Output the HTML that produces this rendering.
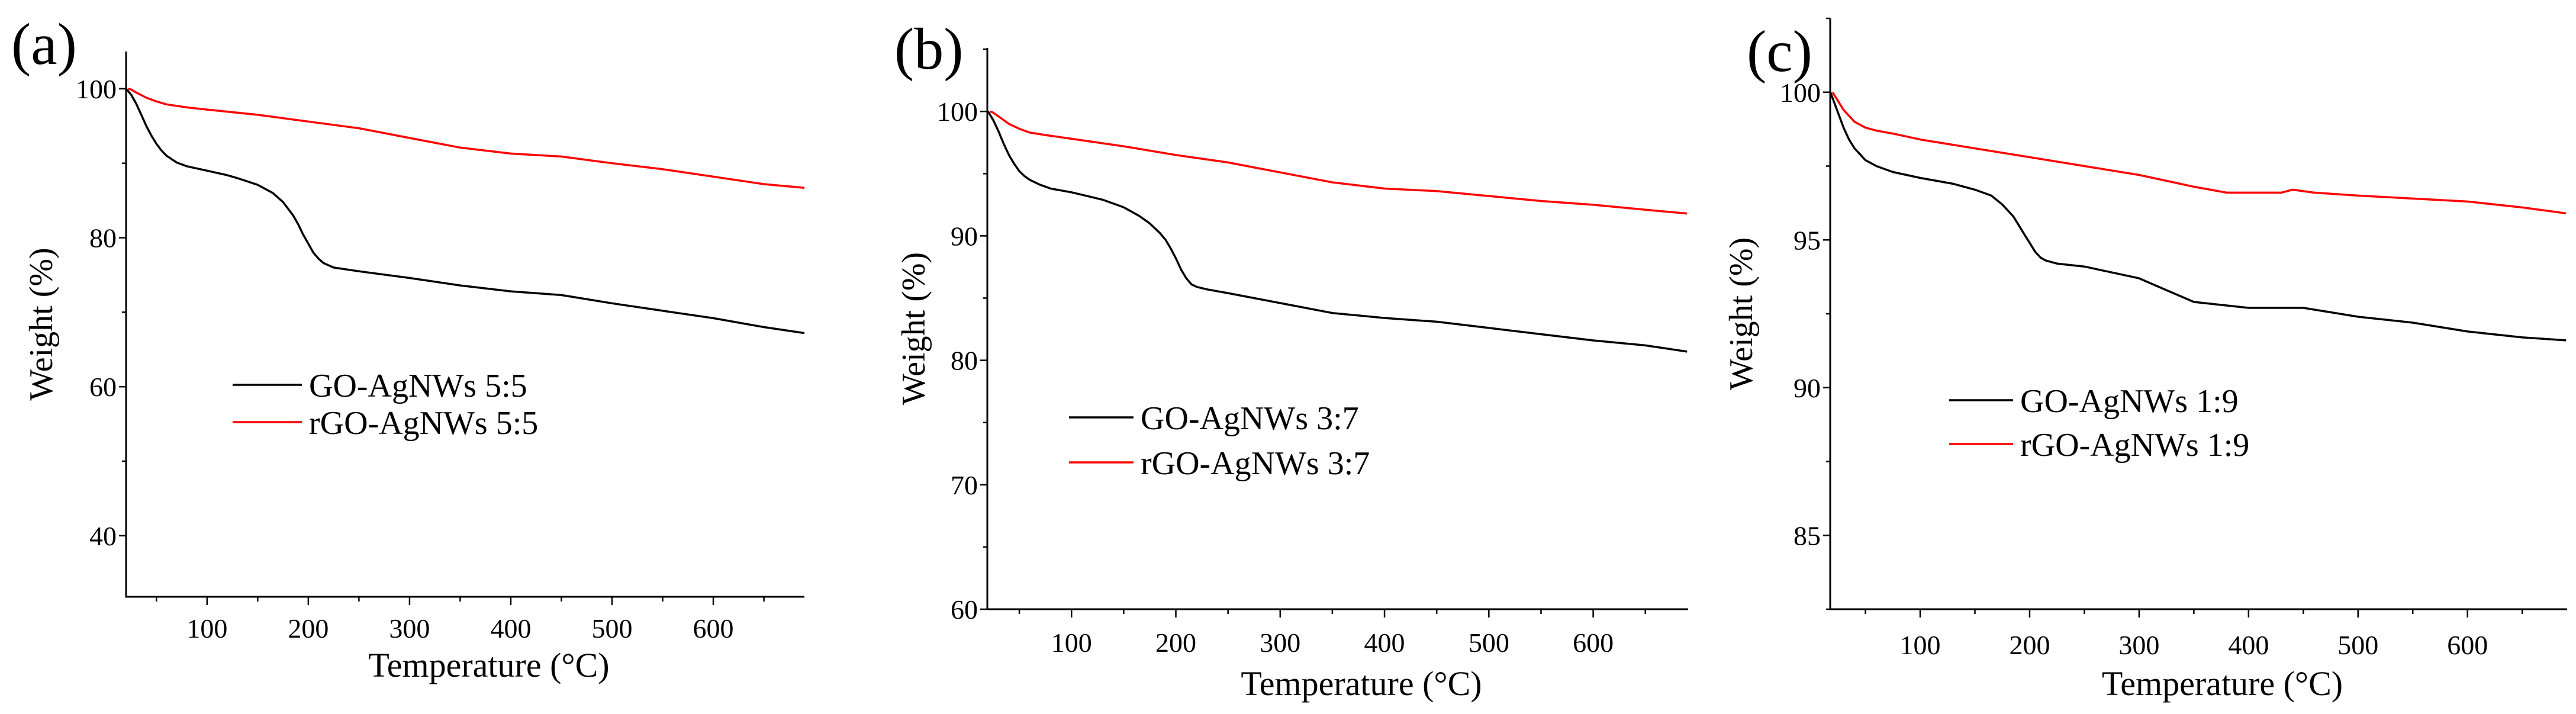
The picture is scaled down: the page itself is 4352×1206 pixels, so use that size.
<!DOCTYPE html>
<html><head><meta charset="utf-8">
<style>
html,body{margin:0;padding:0;background:#fff;}
svg{display:block;}
svg text{font-family:"Liberation Serif","DejaVu Serif",serif !important;fill:#000;}
</style></head>
<body>
<svg id="fig" width="4352" height="1206" viewBox="0 0 4352 1206" xmlns="http://www.w3.org/2000/svg" font-family="Liberation Serif, DejaVu Serif, serif"></svg>
<script>
// Panel (a)
const aTempGO = [20,25,30,35,40,45,50,55,60,70,80,100,120,130,150,165,175,185,190,195,200,205,210,215,225,250,300,350,400,450,500,550,600,650,690];
const aWeightGO = [100,99.2,98,96.5,95,93.7,92.6,91.7,91,90.1,89.6,89,88.4,88,87.1,86,84.8,83,81.8,80.4,79.2,78,77.2,76.6,76,75.5,74.6,73.6,72.8,72.3,71.2,70.2,69.2,68,67.2];
const aTempRGO = [22,25,30,40,50,60,80,100,150,200,250,300,350,400,450,500,550,600,650,690];
const aWeightRGO = [100,99.9,99.5,98.8,98.3,97.9,97.5,97.2,96.5,95.6,94.7,93.4,92.1,91.3,90.9,90.0,89.2,88.2,87.2,86.7];
const aYTicks = [40,60,80,100];
// Panel (b)
const bTempGO = [20,25,30,35,40,45,50,55,60,70,80,100,120,130,150,165,175,185,190,195,200,205,210,215,220,230,250,300,350,400,450,500,550,600,650,690];
const bWeightGO = [100,99.3,98.4,97.4,96.5,95.8,95.2,94.8,94.5,94.1,93.8,93.5,93.1,92.9,92.3,91.6,91,90.2,89.7,89,88.2,87.3,86.6,86.1,85.9,85.7,85.4,84.6,83.8,83.4,83.1,82.6,82.1,81.6,81.2,80.7];
const bTempRGO = [22,25,30,40,50,60,75,100,150,200,250,300,350,400,450,500,550,600,650,690];
const bWeightRGO = [100,99.9,99.6,99,98.6,98.3,98.1,97.8,97.2,96.5,95.9,95.1,94.3,93.8,93.6,93.2,92.8,92.5,92.1,91.8];
const bYTicks = [60,70,80,90,100];
// Panel (c)
const cTempGO = [18,22,26,30,35,40,45,50,60,75,100,130,150,165,175,185,190,195,200,205,210,215,225,250,300,325,350,375,400,450,500,550,600,650,690];
const cWeightGO = [100,99.6,99.2,98.8,98.4,98.1,97.9,97.7,97.5,97.3,97.1,96.9,96.7,96.5,96.2,95.8,95.5,95.2,94.9,94.6,94.4,94.3,94.2,94.1,93.7,93.3,92.9,92.8,92.7,92.7,92.4,92.2,91.9,91.7,91.6];
const cTempRGO = [20,25,30,40,50,60,75,100,150,200,250,300,350,380,430,440,460,500,550,600,650,690];
const cWeightRGO = [100,99.7,99.4,99.0,98.8,98.7,98.6,98.4,98.1,97.8,97.5,97.2,96.8,96.6,96.6,96.7,96.6,96.5,96.4,96.3,96.1,95.9];
const cYTicks = [85,90,95,100];
const xTicks = [100,200,300,400,500,600];

const NS = "http://www.w3.org/2000/svg";
const FONT = '"Liberation Serif", "DejaVu Serif", serif';
const svg = document.getElementById('fig');
function mk(tag, attrs, parent){
  const e = document.createElementNS(NS, tag);
  for (const k in attrs) e.setAttribute(k, attrs[k]);
  if (tag === 'text') { e.setAttribute('font-family', FONT); e.style.fontFamily = FONT; }
  (parent||svg).appendChild(e);
  return e;
}

const panels = [
  {id:'a', label:'(a)', lx:19, ly:108, left:213, right:1359, top:87, bottom:1008, xmin:20, xmax:690, ymin:31.8, ymax:105,
   yTicks:aYTicks, yMinorStep:10, tGO:aTempGO, wGO:aWeightGO, tR:aTempRGO, wR:aWeightRGO,
   legX1:393, legX2:510, legY1:650, legY2:713, name:'5:5', xlabY:1077, xtitY:1143, ylabX:70},
  {id:'b', label:'(b)', lx:1511, ly:116, left:1668, right:2852, top:81, bottom:1029, xmin:19.3, xmax:691, ymin:60, ymax:105.1,
   yTicks:bYTicks, yMinorStep:5, tGO:bTempGO, wGO:bWeightGO, tR:bTempRGO, wR:bWeightRGO,
   legX1:1806, legX2:1915, legY1:705, legY2:781, name:'3:7', xlabY:1101, xtitY:1174, ylabX:1544},
  {id:'c', label:'(c)', lx:2951, ly:120, left:3092, right:4337, top:31, bottom:1029, xmin:17.8, xmax:691, ymin:82.5, ymax:102.5,
   yTicks:cYTicks, yMinorStep:2.5, tGO:cTempGO, wGO:cWeightGO, tR:cTempRGO, wR:cWeightRGO,
   legX1:3293, legX2:3401, legY1:676, legY2:750, name:'1:9', xlabY:1105, xtitY:1174, ylabX:2942}
];

panels.forEach(p => {
  const g = mk('g', {});
  
  
  const xs = v => p.left + (v - p.xmin) / (p.xmax - p.xmin) * (p.right - p.left);
  const ys = v => p.bottom - (v - p.ymin) / (p.ymax - p.ymin) * (p.bottom - p.top);

  const lab = mk('text', {x:p.lx, y:p.ly, 'font-size':100}, g);
  lab.textContent = p.label;
  
  

  const ya = mk('line', {x1:p.left, y1:p.top, x2:p.left, y2:p.bottom+1.5, stroke:'#000', 'stroke-width':3}, g);
  
  
  const xa = mk('line', {x1:p.left-1.5, y1:p.bottom, x2:p.right, y2:p.bottom, stroke:'#000', 'stroke-width':3}, g);
  
  

  for (let t = 50; t <= p.xmax; t += 50) {
    const major = t % 100 === 0;
    const tk = mk('line', {x1:xs(t), y1:p.bottom, x2:xs(t), y2:p.bottom + (major?14:8), stroke:'#000', 'stroke-width':2.5}, g);
    
    
  }
  xTicks.forEach(t => {
    const tl = mk('text', {x:xs(t), y:p.xlabY, 'font-size':46, 'text-anchor':'middle'}, g);
    tl.textContent = t;
    
    
  });
  const xt = mk('text', {x:(p.left+p.right)/2 + 40, y:p.xtitY, 'font-size':58, 'text-anchor':'middle'}, g);
  xt.textContent = 'Temperature (°C)';
  
  

  const y0 = Math.ceil(p.ymin / p.yMinorStep) * p.yMinorStep;
  for (let v = y0; v <= p.ymax + 1e-6; v += p.yMinorStep) {
    const major = p.yTicks.some(t => Math.abs(t - v) < 1e-6);
    const tk = mk('line', {x1:p.left - (major?12:7), y1:ys(v), x2:p.left, y2:ys(v), stroke:'#000', 'stroke-width':2.5}, g);
    
    
  }
  p.yTicks.forEach(v => {
    const tl = mk('text', {x:p.left - 16, y:ys(v) + 16, 'font-size':46, 'text-anchor':'end'}, g);
    tl.textContent = v;
    
    
  });
  const cy = (p.top + p.bottom) / 2;
  const yt = mk('text', {x:0, y:0, 'font-size':56, 'text-anchor':'middle', transform:'translate(' + (p.ylabX + 18) + ',' + cy + ') rotate(-90)'}, g);
  yt.textContent = 'Weight (%)';
  
  

  const path = (ts, ws) => ts.map((t, i) => (i ? 'L' : 'M') + xs(t).toFixed(1) + ',' + ys(ws[i]).toFixed(1)).join(' ');
  const s1 = mk('path', {d:path(p.tGO, p.wGO), fill:'none', stroke:'#000', 'stroke-width':3.5, 'stroke-linejoin':'round'}, g);
  
  
  const s2 = mk('path', {d:path(p.tR, p.wR), fill:'none', stroke:'#ff0000', 'stroke-width':3.5, 'stroke-linejoin':'round'}, g);
  
  

  const l1 = mk('line', {x1:p.legX1, y1:p.legY1, x2:p.legX2, y2:p.legY1, stroke:'#000', 'stroke-width':3.5}, g);
  
  
  const t1 = mk('text', {x:p.legX2 + 12, y:p.legY1 + 20, 'font-size':56}, g);
  t1.textContent = 'GO-AgNWs ' + p.name;
  
  
  const l2 = mk('line', {x1:p.legX1, y1:p.legY2, x2:p.legX2, y2:p.legY2, stroke:'#ff0000', 'stroke-width':3.5}, g);
  
  
  const t2 = mk('text', {x:p.legX2 + 12, y:p.legY2 + 20, 'font-size':56}, g);
  t2.textContent = 'rGO-AgNWs ' + p.name;
  
  
});
</script>
</body></html>
